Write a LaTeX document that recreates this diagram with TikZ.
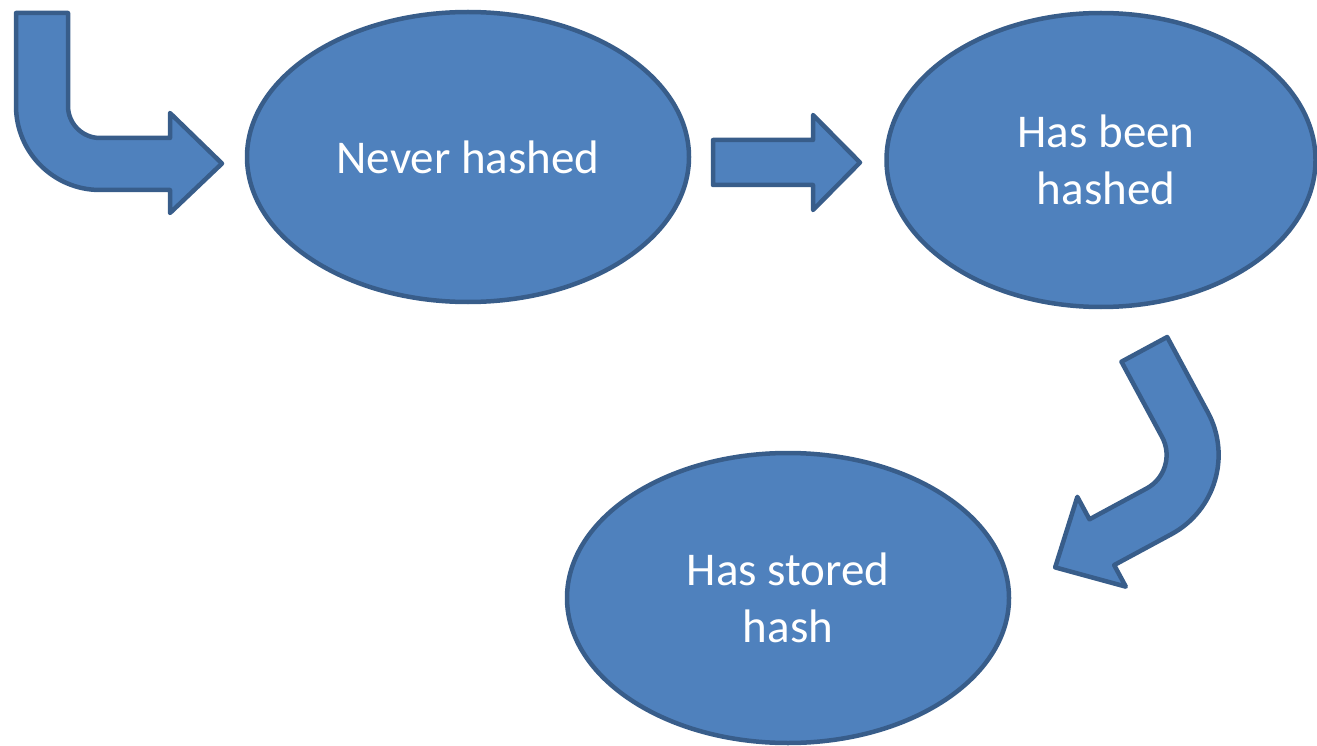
\documentclass[tikz,border=0pt]{standalone}
\usepackage{fontspec}
\setmainfont{Carlito}
\usetikzlibrary{shapes.geometric}
\definecolor{shapefill}{HTML}{4F81BD}
\definecolor{shapeline}{HTML}{385D8A}
\begin{document}
\begin{tikzpicture}[x=1pt,y=-1pt,
  state/.style={ellipse, draw=shapeline, fill=shapefill, line width=4.5pt,
    text=white, align=center, inner sep=0pt,
    font=\fontsize{47}{57}\selectfont},
  blockarrow/.style={draw=shapeline, fill=shapefill, line width=4.5pt,
    line join=round}]
\useasboundingbox (0,0) rectangle (1317,746);

% states
\node[state, minimum width=442pt, minimum height=290pt] (never) at (468,157) {Never hashed};
\node[state, minimum width=429pt, minimum height=294pt] (been) at (1101,160) {\hspace*{10pt}Has been\\\hspace*{10pt}hashed};
\node[state, minimum width=442pt, minimum height=290pt] (stored) at (788,598) {Has stored\\hash};

% entry arrow, bent down-to-right
\draw[blockarrow] (16,13) -- (68,13) -- (68,106)
  arc[start angle=180, end angle=90, radius=32] -- (170,138) -- (170,113)
  -- (222,163.5) -- (170,213) -- (170,190) -- (100,190)
  arc[start angle=90, end angle=180, radius=84] -- cycle;

% straight arrow between the first two states
\draw[blockarrow] (713,140) -- (813,140) -- (813,115) -- (860,162.5)
  -- (813,210) -- (813,185) -- (713,185) -- cycle;

% bent arrow down to the last state
\begin{scope}[shift={(1128.6pt,-455pt)}, x={(0.88pt,0.475pt)}, y={(0.475pt,-0.88pt)}]
  \draw[blockarrow] (38,-85.5) -- (90,-85.5) -- (90,0)
    arc[start angle=0, end angle=90, radius=90] -- (-65,90) -- (-65,114.5)
    -- (-118,64) -- (-65,12.5) -- (-65,38) -- (0,38)
    arc[start angle=90, end angle=0, radius=38] -- cycle;
\end{scope}
\end{tikzpicture}
\end{document}
